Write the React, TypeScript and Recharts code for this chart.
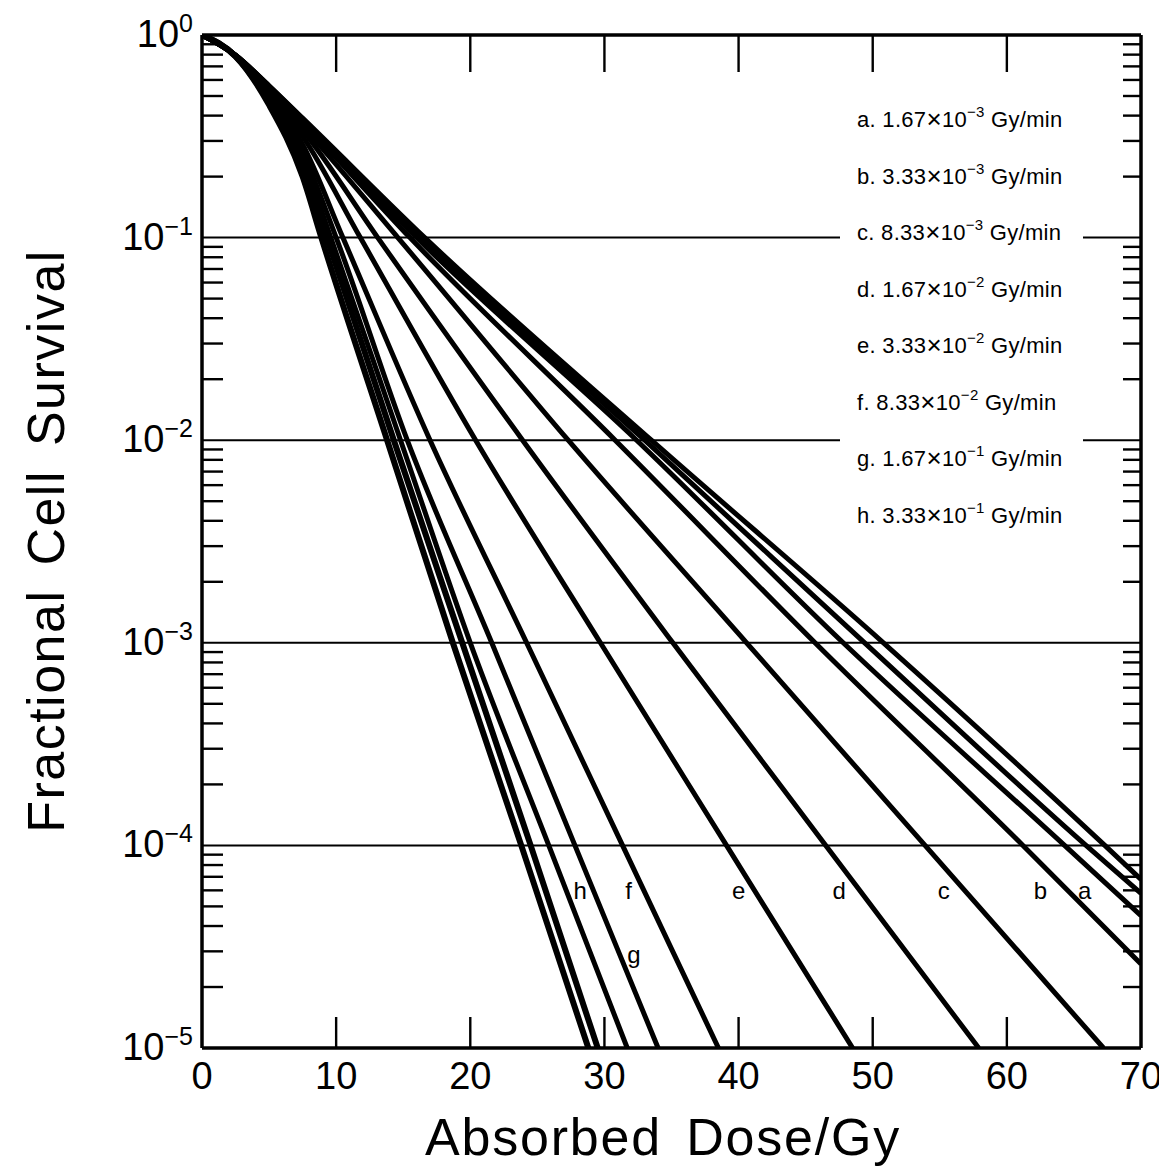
import React from 'react';
import { LineChart, Line, XAxis, YAxis, ReferenceLine, ReferenceDot } from 'recharts';

const FONT = '"Liberation Sans", Arial, Helvetica, sans-serif';

// ---- axis ticks ----
const doseTicks = [0, 10, 20, 30, 40, 50, 60, 70];
const decadeExponents = [-5, -4, -3, -2, -1, 0];
const minorMultipliers = [2, 3, 4, 5, 6, 7, 8, 9];
const gridDecades = [1e-1, 1e-2, 1e-3, 1e-4];

// ---- curves: [dose (Gy), fractional survival] ----
const curveX1 = [[0, 1], [2.5, 0.785], [5, 0.452], [7.5, 0.2], [8.9, 0.1], [13.8, 0.01], [18.7, 0.001], [23.8, 0.0001], [28.8, 0.00001]];
const curveX2 = [[0, 1], [2.5, 0.785], [5, 0.468], [7.5, 0.224], [9.3, 0.1], [14.3, 0.01], [19.4, 0.001], [24.5, 0.0001], [29.5, 0.00001]];
const curveH = [[0, 1], [2.5, 0.79], [5, 0.479], [7.5, 0.245], [9.6, 0.1], [14.8, 0.01], [20.0, 0.001], [25.85, 0.0001], [31.7, 0.00001]];
const curveG = [[0, 1], [2.5, 0.79], [5, 0.49], [7.5, 0.263], [10.0, 0.1], [15.3, 0.01], [21.6, 0.001], [27.8, 0.0001], [34.0, 0.00001]];
const curveF = [[0, 1], [2.5, 0.79], [5, 0.501], [7.5, 0.288], [10.5, 0.1], [17.0, 0.01], [24.2, 0.001], [31.35, 0.0001], [38.5, 0.00001]];
const curveE = [[0, 1], [2.5, 0.79], [5, 0.513], [7.5, 0.316], [11.8, 0.1], [20.4, 0.01], [29.7, 0.001], [39.1, 0.0001], [48.5, 0.00001]];
const curveD = [[0, 1], [2.5, 0.79], [5, 0.525], [7.5, 0.339], [13.1, 0.1], [23.9, 0.01], [35.1, 0.001], [46.5, 0.0001], [57.9, 0.00001]];
const curveC = [[0, 1], [2.5, 0.794], [5, 0.537], [7.5, 0.355], [14.6, 0.1], [27.3, 0.01], [40.6, 0.001], [53.9, 0.0001], [67.2, 0.00001]];
const curveB = [[0, 1], [2.5, 0.794], [5, 0.55], [7.5, 0.372], [15.5, 0.1], [30.8, 0.01], [45.7, 0.001], [61.2, 0.0001], [70, 0.000026]];
const curveA = [[0, 1], [2.5, 0.794], [5, 0.556], [7.5, 0.38], [16.0, 0.1], [32.4, 0.01], [47.8, 0.001], [64.3, 0.0001], [70, 0.000045]];
const curveA2 = [[0, 1], [2.5, 0.794], [5, 0.56], [7.5, 0.385], [16.3, 0.1], [33.0, 0.01], [49.4, 0.001], [65.9, 0.0001], [70, 0.000058]];
const curveA3 = [[0, 1], [2.5, 0.794], [5, 0.562], [7.5, 0.389], [16.6, 0.1], [33.5, 0.01], [50.8, 0.001], [67.3, 0.0001], [70, 0.000068]];

const curves = [curveX1, curveX2, curveH, curveG, curveF, curveE, curveD, curveC, curveB, curveA, curveA2, curveA3];
const curveNames = ['x1', 'x2', 'h', 'g', 'f', 'e', 'd', 'c', 'b', 'a', 'a2', 'a3'];
const curveWidths = [6, 6, 5, 5, 5, 5, 5, 5, 5, 5, 5, 5];

// ---- legend ----
const legendLetters = ['a', 'b', 'c', 'd', 'e', 'f', 'g', 'h'];
const legendMantissas = ['1.67', '3.33', '8.33', '1.67', '3.33', '8.33', '1.67', '3.33'];
const legendExponents = ['−3', '−3', '−3', '−2', '−2', '−2', '−1', '−1'];

// ---- in-plot curve letters ----
const curveLabelLetters = ['h', 'f', 'e', 'd', 'c', 'b', 'a', 'g'];
const curveLabelDoses = [28.2, 31.8, 40.0, 47.5, 55.3, 62.5, 65.8, 32.2];
const curveLabelSurv = [6.0e-5, 6.0e-5, 6.0e-5, 6.0e-5, 6.0e-5, 6.0e-5, 6.0e-5, 2.9e-5];

// ---- layout ----
const CHART_W = 1159;
const CHART_H = 1160;
const PLOT_LEFT = 194;
const PLOT_TOP = 27;
const PLOT_W = 939;
const PLOT_H = 1013;
const X_AXIS_H = CHART_H - PLOT_TOP - PLOT_H;
const RIGHT_M = CHART_W - PLOT_LEFT - PLOT_W;

const yTicks: number[] = [];
decadeExponents.forEach((e) => {
  yTicks.push(Math.pow(10, e));
  if (e < 0) minorMultipliers.forEach((m) => yTicks.push(m * Math.pow(10, e)));
});

const isDecade = (v: number) => Math.abs(Math.log10(v) - Math.round(Math.log10(v))) < 1e-9;

const XTick = (props: any) => {
  const { x, y, payload } = props;
  const v = payload.value;
  const inner = v !== 0 && v !== 70;
  return (
    <g>
      {inner && <line x1={x} y1={y} x2={x} y2={y - 31} stroke="#000" strokeWidth={2.4} />}
      {inner && <line x1={x} y1={y - PLOT_H} x2={x} y2={y - PLOT_H + 37} stroke="#000" strokeWidth={2.4} />}
      <text x={x} y={y + 41} textAnchor="middle" fontSize={38} fontFamily={FONT} fill="#000">
        {v}
      </text>
    </g>
  );
};

const YTick = (props: any) => {
  const { x, y, payload } = props;
  const v = payload.value;
  if (isDecade(v)) {
    const e = Math.round(Math.log10(v));
    const exp = e === 0 ? '0' : '−' + Math.abs(e);
    return (
      <text x={x - 9} y={y + 12} textAnchor="end" fontSize={38} fontFamily={FONT} fill="#000">
        10
        <tspan dy={-15} fontSize={25}>{exp}</tspan>
      </text>
    );
  }
  return (
    <g>
      <line x1={x} y1={y} x2={x + 21} y2={y} stroke="#000" strokeWidth={2.4} />
      <line x1={x + PLOT_W - 18} y1={y} x2={x + PLOT_W} y2={y} stroke="#000" strokeWidth={2.4} />
    </g>
  );
};

const toPoints = (c: number[][]) => c.map(([dose, surv]) => ({ dose, surv }));

const LEG_X = 857 - 8;
const LEG_Y0 = 119 - 8;
const LEG_STEP = 56.5;

export default function App() {
  return (
    <div style={{ position: 'relative', width: CHART_W, height: CHART_H, background: '#fff' }}>
      <LineChart
        width={CHART_W}
        height={CHART_H}
        margin={{ top: PLOT_TOP, right: RIGHT_M, left: 0, bottom: 0 }}
      >
        <XAxis
          dataKey="dose"
          type="number"
          domain={[0, 70]}
          ticks={doseTicks}
          interval={0}
          allowDataOverflow
          height={X_AXIS_H}
          tickLine={false}
          tickSize={0}
          tickMargin={0}
          axisLine={{ stroke: '#000', strokeWidth: 3.5 }}
          tick={<XTick />}
        />
        <YAxis
          dataKey="surv"
          type="number"
          scale="log"
          domain={[1e-5, 1]}
          ticks={yTicks}
          interval={0}
          allowDataOverflow
          width={PLOT_LEFT}
          tickLine={false}
          tickSize={0}
          tickMargin={0}
          axisLine={{ stroke: '#000', strokeWidth: 3.5 }}
          tick={<YTick />}
        />
        {gridDecades.map((g) => (
          <ReferenceLine key={g} y={g} stroke="#000" strokeWidth={2} />
        ))}
        <ReferenceLine y={1} stroke="#000" strokeWidth={3.5} />
        <ReferenceLine x={70} stroke="#000" strokeWidth={3.5} />
        {curves.map((c, i) => (
          <Line
            key={curveNames[i]}
            name={curveNames[i]}
            data={toPoints(c)}
            dataKey="surv"
            type="monotone"
            stroke="#000"
            strokeWidth={curveWidths[i]}
            dot={false}
            activeDot={false}
            isAnimationActive={false}
          />
        ))}
        {curveLabelLetters.map((l, i) => (
          <ReferenceDot
            key={l}
            x={curveLabelDoses[i]}
            y={curveLabelSurv[i]}
            r={0}
            fill="none"
            stroke="none"
            label={{ value: l, position: 'center', fontSize: 24, fill: '#000', fontFamily: FONT }}
          />
        ))}
      </LineChart>
      <svg
        width={CHART_W}
        height={CHART_H}
        style={{ position: 'absolute', left: 0, top: 0, pointerEvents: 'none' }}
      >
        <rect x={832} y={92} width={243} height={435} fill="#fff" />
        {legendLetters.map((l, i) => (
          <text key={l} x={LEG_X} y={LEG_Y0 + i * LEG_STEP + 8} fontSize={22} letterSpacing={0.3} fontFamily={FONT} fill="#000">
            {l + '. ' + legendMantissas[i]}
            <tspan fontSize={26} dy={1}>×</tspan>
            <tspan dy={-1}>10</tspan>
            <tspan fontSize={15} dy={-10}>{legendExponents[i]}</tspan>
            <tspan dy={10}>{' Gy/min'}</tspan>
          </text>
        ))}
        <text
          x={663 - 8}
          y={1155 - 8}
          textAnchor="middle"
          fontSize={52}
          letterSpacing={1.8}
          wordSpacing={8}
          fontFamily={FONT}
          fill="#000"
        >
          Absorbed Dose/Gy
        </text>
        <text
          transform={`translate(${64 - 8}, ${541 - 8}) rotate(-90)`}
          textAnchor="middle"
          fontSize={52}
          letterSpacing={1.5}
          wordSpacing={8}
          fontFamily={FONT}
          fill="#000"
        >
          Fractional Cell Survival
        </text>
      </svg>
    </div>
  );
}
